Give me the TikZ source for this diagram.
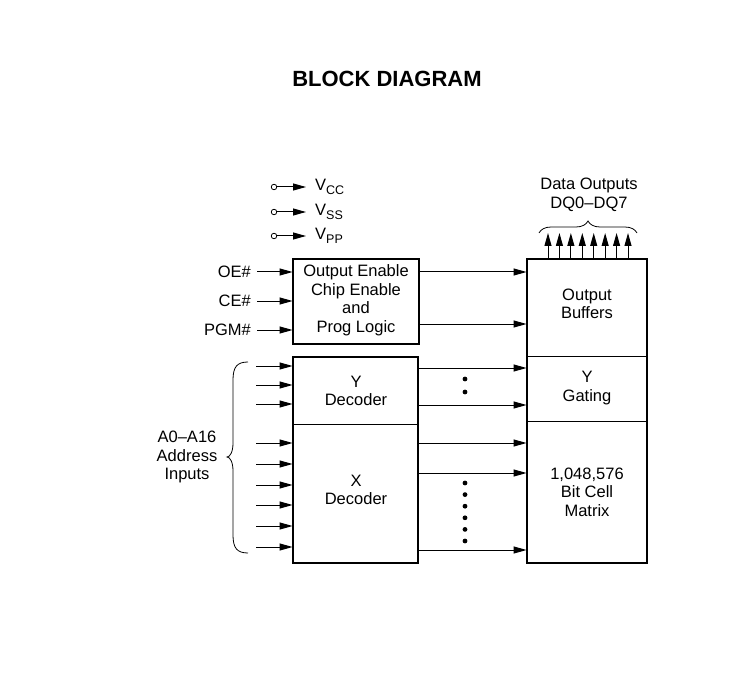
\documentclass[tikz,border=0pt]{standalone}
\usepackage{fontspec}
\setmainfont{Liberation Sans}
\usetikzlibrary{arrows.meta,decorations.pathreplacing}
\begin{document}
\begin{tikzpicture}[x=1pt,y=-1pt,
  every node/.style={font=\fontsize{16.5}{18.5}\selectfont, inner sep=0pt},
  blk/.style={draw, line width=0.9pt, minimum width=#1},
  sig/.style={line width=1pt, -{Triangle[length=13pt,width=7pt]}},
  outline/.style={line width=2pt},
  dotm/.style={circle, fill, minimum size=4.8pt, inner sep=0pt},
  lbl/.style={align=center}]
\useasboundingbox (0,0) rectangle (742,695);
\fill[white] (0,0) rectangle (742,695);

\node[font=\fontsize{22}{24}\bfseries\selectfont] (title) at (387,79) {BLOCK DIAGRAM};

% power pins
\foreach \n/\y/\s in {vcc/187/CC, vss/212/SS, vpp/236/PP}{
  \node[circle, draw, line width=0.8pt, minimum size=5.5pt] (c\n) at (274,\y) {};
  \coordinate (t\n) at (306,\y);
  \draw[sig] (c\n) -- (t\n);
  \node[anchor=west] (l\n) at (315,\y) {V\raisebox{-4pt}{\fontsize{12.5}{12.5}\selectfont \s}};
}

% left blocks
\node[blk=126pt, minimum height=85pt] (oebox) at (356,301.5) {};
\node[lbl] (oet) at (356,300) {Output Enable\\Chip Enable\\and\\Prog Logic};
\draw[outline] (oebox.north west) rectangle (oebox.south east);

\node[blk=125pt, minimum height=67pt] (yd) at (355.5,390.5) {};
\node[blk=125pt, minimum height=139pt] (xd) at (355.5,493.5) {};
\node[lbl] (ydt) at (356,391) {Y\\Decoder};
\node[lbl] (xdt) at (356,490) {X\\Decoder};
\draw[outline] (yd.north west) rectangle (xd.south east);

% right blocks
\node[blk=120pt, minimum height=97pt] (ob) at (587,307.5) {};
\node[blk=120pt, minimum height=65pt] (yg) at (587,388.5) {};
\node[blk=120pt, minimum height=142pt] (bc) at (587,492) {};
\node[lbl] (obt) at (587,304) {Output\\Buffers};
\node[lbl] (ygt) at (587,388) {Y\\Gating};
\node[lbl] (bct) at (587,492) {1,048,576\\Bit Cell\\Matrix};
\draw[outline] (ob.north west) rectangle (bc.south east);

% control inputs
\foreach \n/\t/\y in {loe/OE\#/272, lce/CE\#/301, lpgm/PGM\#/330}{
  \node[anchor=east] (\n) at (251,\y) {\t};
  \coordinate (s\n) at (257,\y);
  \draw[sig] (s\n) -- (oebox.west |- s\n);
}

% OE block to output buffers
\foreach \y [count=\i] in {272,324}{
  \coordinate (o\i) at (419,\y);
  \draw[sig] (oebox.east |- o\i) -- (ob.west |- o\i);
}

% address inputs
\foreach \y [count=\i] in {366,385,404,443,464,485,505,526,547}{
  \coordinate (a\i) at (256,\y);
  \draw[sig] (a\i) -- (yd.west |- a\i);
}
\node[lbl] (addr) at (187,457) {A0--A16\\Address\\Inputs};
\draw[line width=0.8pt] (248,362) .. controls (237,362) and (233,367) .. (233,380)
  -- (233,443) .. controls (233,452) and (230,457) .. (227,457)
  .. controls (230,457) and (233,462) .. (233,471)
  -- (233,535) .. controls (233,548) and (237,553) .. (248,553);

% decoder outputs
\foreach \y [count=\i] in {368,405}{
  \coordinate (yo\i) at (418,\y);
  \draw[sig] (yd.east |- yo\i) -- (yg.west |- yo\i);
}
\foreach \y [count=\i] in {443,473,550}{
  \coordinate (xo\i) at (418,\y);
  \draw[sig] (xd.east |- xo\i) -- (bc.west |- xo\i);
}
\foreach \y [count=\i] in {379,392}{ \node[dotm] (ydot\i) at (465,\y) {}; }
\foreach \y [count=\i] in {483,494.6,506.2,517.8,529.4,541}{ \node[dotm] (xdot\i) at (465,\y) {}; }

% data outputs
\foreach \i in {0,...,7}{
  \coordinate (dq\i) at (548+\i*11.43,233);
  \draw[sig] (ob.north -| dq\i) -- (dq\i);
}
\draw[line width=0.8pt, decorate, decoration={brace, amplitude=12pt}] (539,233) -- (637,233);
\node[lbl] (dout) at (589,195) {Data Outputs\\DQ0--DQ7};
\end{tikzpicture}
\end{document}
